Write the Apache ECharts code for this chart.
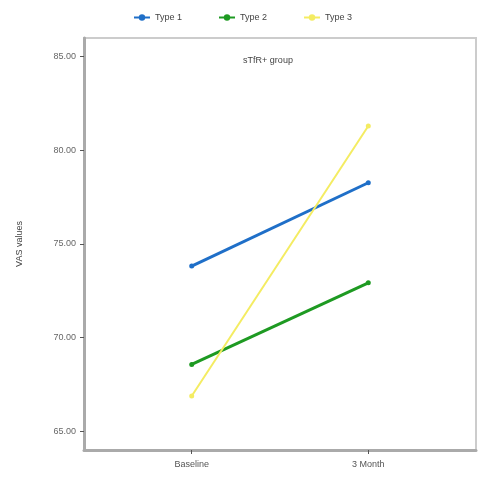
<!DOCTYPE html>
<html>
<head>
<meta charset="utf-8">
<script src="https://cdn.jsdelivr.net/npm/echarts@6/dist/echarts.min.js"></script>
<style>html,body{margin:0;padding:0;background:#fff}#c{width:500px;height:500px}</style>
</head>
<body>
<div id="c"></div>
<script>
var categories = ['Baseline', '3 Month'];
var categoryPositions = [1, 2];
var type1 = [73.82, 78.27];
var type2 = [68.57, 72.93];
var type3 = [66.88, 81.30];
var yTicks = [65, 70, 75, 80, 85];
var seriesNames = ['Type 1', 'Type 2', 'Type 3'];
var colors = ['#1f6fc8', '#1e9a22', '#f4ec62'];
var title = 'sTfR+ group';
var yName = 'VAS values';

function pairs(vals) { return vals.map(function (v, i) { return [categoryPositions[i], v]; }); }
var allData = [type1, type2, type3];

var chart = echarts.init(document.getElementById('c'));
chart.setOption({
  animation: false,
  title: { text: title, left: 263, top: 51, textAlign: 'center',
    textStyle: { fontSize: 9, fontWeight: 'normal', color: '#444', fontFamily: 'Liberation Sans' } },
  legend: {
    top: 8, left: 128, itemWidth: 16, itemHeight: 8, itemGap: 36,
    textStyle: { fontSize: 9, color: '#444', fontFamily: 'Liberation Sans' },
    data: seriesNames
  },
  grid: { left: 84, right: 24, top: 38, bottom: 50, show: true, borderColor: '#cccccc', borderWidth: 2 },
  xAxis: {
    type: 'value', min: 0.39, max: 2.61,
    splitLine: { show: false },
    axisLine: { show: true, lineStyle: { color: '#aaaaaa', width: 3 } },
    axisTick: { show: true, length: 4, customValues: categoryPositions, lineStyle: { color: '#555', width: 1 } },
    axisLabel: { customValues: categoryPositions, margin: 10, fontSize: 9, color: '#555', fontFamily: 'Liberation Sans',
      formatter: function (v) { var i = categoryPositions.indexOf(v); return i >= 0 ? categories[i] : ''; } }
  },
  yAxis: {
    type: 'value', min: 64, max: 86,
    name: yName, nameLocation: 'middle', nameGap: 60, nameRotate: 90,
    nameTextStyle: { fontSize: 9, color: '#444', fontFamily: 'Liberation Sans' },
    splitLine: { show: false },
    axisLine: { show: true, lineStyle: { color: '#aaaaaa', width: 3 } },
    axisTick: { show: true, length: 4, customValues: yTicks, lineStyle: { color: '#555', width: 1 } },
    axisLabel: { customValues: yTicks, margin: 8, fontSize: 9, color: '#666', fontFamily: 'Liberation Sans',
      formatter: function (v) { return v.toFixed(2); } }
  },
  series: seriesNames.map(function (n, i) {
    return {
      name: n, type: 'line', data: pairs(allData[i]),
      symbol: 'circle', symbolSize: 5,
      itemStyle: { color: colors[i] },
      lineStyle: { color: colors[i], width: i === 2 ? 2 : 3 }
    };
  })
});
</script>
</body>
</html>
